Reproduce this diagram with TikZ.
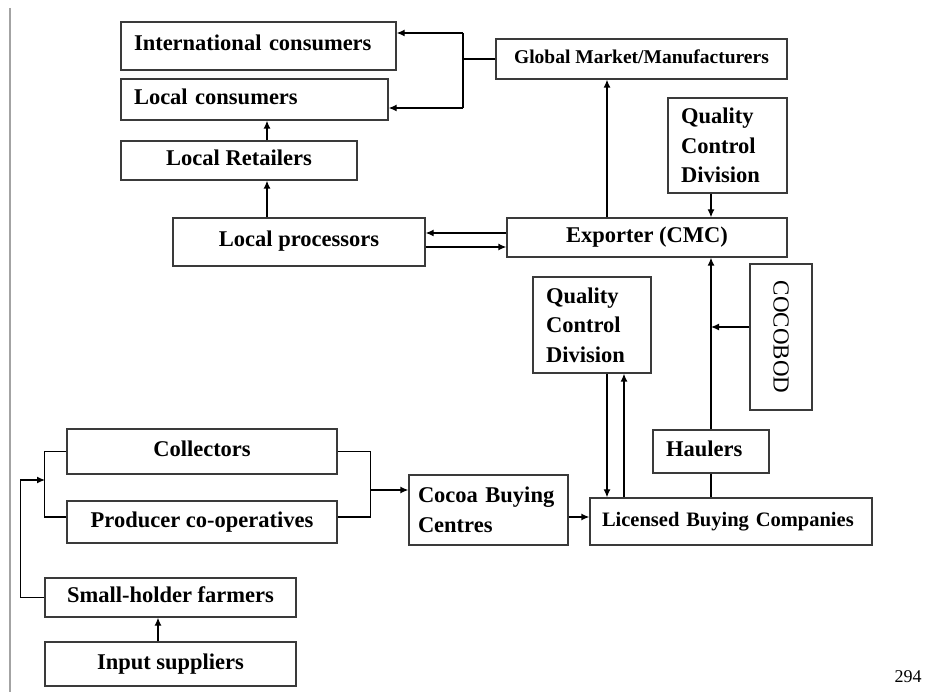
\documentclass[tikz,border=0pt]{standalone}
\usepackage{fontspec}
\setmainfont{Liberation Serif}
\usepackage{tikz}
\usetikzlibrary{arrows.meta,positioning}
\definecolor{boxgray}{HTML}{3A3A3A}
\definecolor{rulegray}{HTML}{A3A3A3}

\begin{document}
\begin{tikzpicture}[x=1pt,y=-1pt,
      box/.style={draw=boxgray,line width=1.3pt,inner xsep=13pt,inner ysep=2pt,align=center,font=\fontsize{22.5}{29.5}\selectfont\bfseries},
      lbox/.style={box,align=left},
      one/.style={text height=15pt,text depth=5pt},
      ln/.style={line width=1.3pt,black},
      arr/.style={-{Latex[length=8pt,width=7pt]},line width=1.3pt,black}
    ]
    \useasboundingbox (0,0) rectangle (951,692);
    \draw[rulegray,line width=1.2pt] (10,8) -- (10,692);
    % consumers side
    \node[lbox,one,text width=249pt,minimum height=48pt] (intl) at (258.5,46) {International consumers};
    \node[lbox,one,text width=241pt,minimum height=41pt] (lcons) at (254.5,99.5) {Local consumers};
    \node[box,one,minimum width=236pt,minimum height=39pt] (lret) at (239,160.5) {Local Retailers};
    \node[box,one,minimum width=252pt,minimum height=48pt] (lproc) at (299,242) {Local processors};
    \node[box,one,inner xsep=4pt,minimum width=291pt,minimum height=40pt,font=\fontsize{19.5}{24}\selectfont\bfseries] (glob) at (641.5,59) {Global Market/Manufacturers};
    \node[lbox,text width=93pt,minimum height=95pt] (qcdx) at (727.5,145.5) {Quality\\Control\\Division};
    \node[box,one,minimum width=280pt,minimum height=39pt] (expo) at (647,237.5) {Exporter (CMC)};
    \node[box,rotate=-90,minimum width=146pt,minimum height=62pt,font=\fontsize{23}{26}\selectfont] (coco) at (781,337) {COCOBOD};
    % farm side
    \node[lbox,text width=92pt,minimum height=96pt] (qcdl) at (592,325) {Quality\\Control\\Division};
    \node[lbox,one,text width=90pt,minimum height=43pt] (haul) at (711,451.5) {Haulers};
    \node[lbox,inner xsep=9pt,text width=141pt,minimum height=70pt] (cbc) at (488.5,510) {Cocoa Buying\\Centres};
    \node[lbox,one,inner xsep=12pt,text width=258pt,minimum height=47pt,font=\fontsize{20.5}{24}\selectfont\bfseries] (lbc) at (731,521.5) {Licensed Buying Companies};
    \node[box,one,minimum width=270pt,minimum height=45pt] (coll) at (202,451.5) {Collectors};
    \node[box,one,minimum width=270pt,minimum height=42pt] (prod) at (202,522) {Producer co-operatives};
    \node[box,one,minimum width=251pt,minimum height=39pt] (small) at (170.5,597.5) {Small-holder farmers};
    \node[box,one,minimum width=251pt,minimum height=44pt] (inp) at (170.5,664) {Input suppliers};
    \node[font=\fontsize{18}{18}\selectfont] (pnum) at (908,677) {294};

    % connectors, top part
    \coordinate (ct) at (463,33);
    \coordinate (cb) at (463,108);
    \draw[ln] (glob.west) -- (glob.west -| ct);
    \draw[ln] (ct) -- (cb);
    \draw[arr] (ct) -- (ct -| intl.east);
    \draw[arr] (cb) -- (cb -| lcons.east);
    \draw[arr] ([xshift=28pt]lret.north) -- ([xshift=28pt]lret.north |- lcons.south);
    \draw[arr] ([xshift=-32pt]lproc.north) -- ([xshift=-32pt]lproc.north |- lret.south);
    \draw[arr] ([yshift=4.5pt]expo.west) -- ([yshift=4.5pt]expo.west -| lproc.east);
    \draw[arr] ([yshift=-5pt]lproc.east) -- ([yshift=-5pt]lproc.east -| expo.west);
    \draw[arr] ([xshift=-40pt]expo.north) -- ([xshift=-40pt]expo.north |- glob.south);
    \draw[arr] ([xshift=-16.5pt]qcdx.south) -- ([xshift=-16.5pt]qcdx.south |- expo.north);
    \draw[arr] (haul.north) -- (haul.north |- expo.south);
    \draw[arr] ([yshift=10pt]coco.south) -- ([yshift=10pt]coco.south -| haul.north);
    \draw[ln] (haul.south) -- (haul.south |- lbc.north);
    \draw[arr] ([xshift=15pt]qcdl.south) -- ([xshift=15pt]qcdl.south |- lbc.north);
    \draw[arr] ([xshift=32pt]qcdl.south |- lbc.north) -- ([xshift=32pt]qcdl.south);

    % connectors, bottom part
    \draw[ln] (coll.east) -- ++(33,0) |- ([yshift=5pt]prod.east);
    \draw[ln] (coll.west) -- ++(-22,0) |- ([yshift=5pt]prod.west);
    \coordinate (cj) at (370,490);
    \coordinate (fj) at (45,480);
    \draw[arr] (cj) -- (cj -| cbc.west);
    \draw[arr] ([yshift=-7pt]cbc.east) -- ([yshift=-7pt]cbc.east -| lbc.west);
    \draw[arr] (small.west) -- ++(-24,0) |- (fj);
    \draw[arr] ([xshift=-12.5pt]inp.north) -- ([xshift=-12.5pt]inp.north |- small.south);
  \end{tikzpicture}
\end{document}
